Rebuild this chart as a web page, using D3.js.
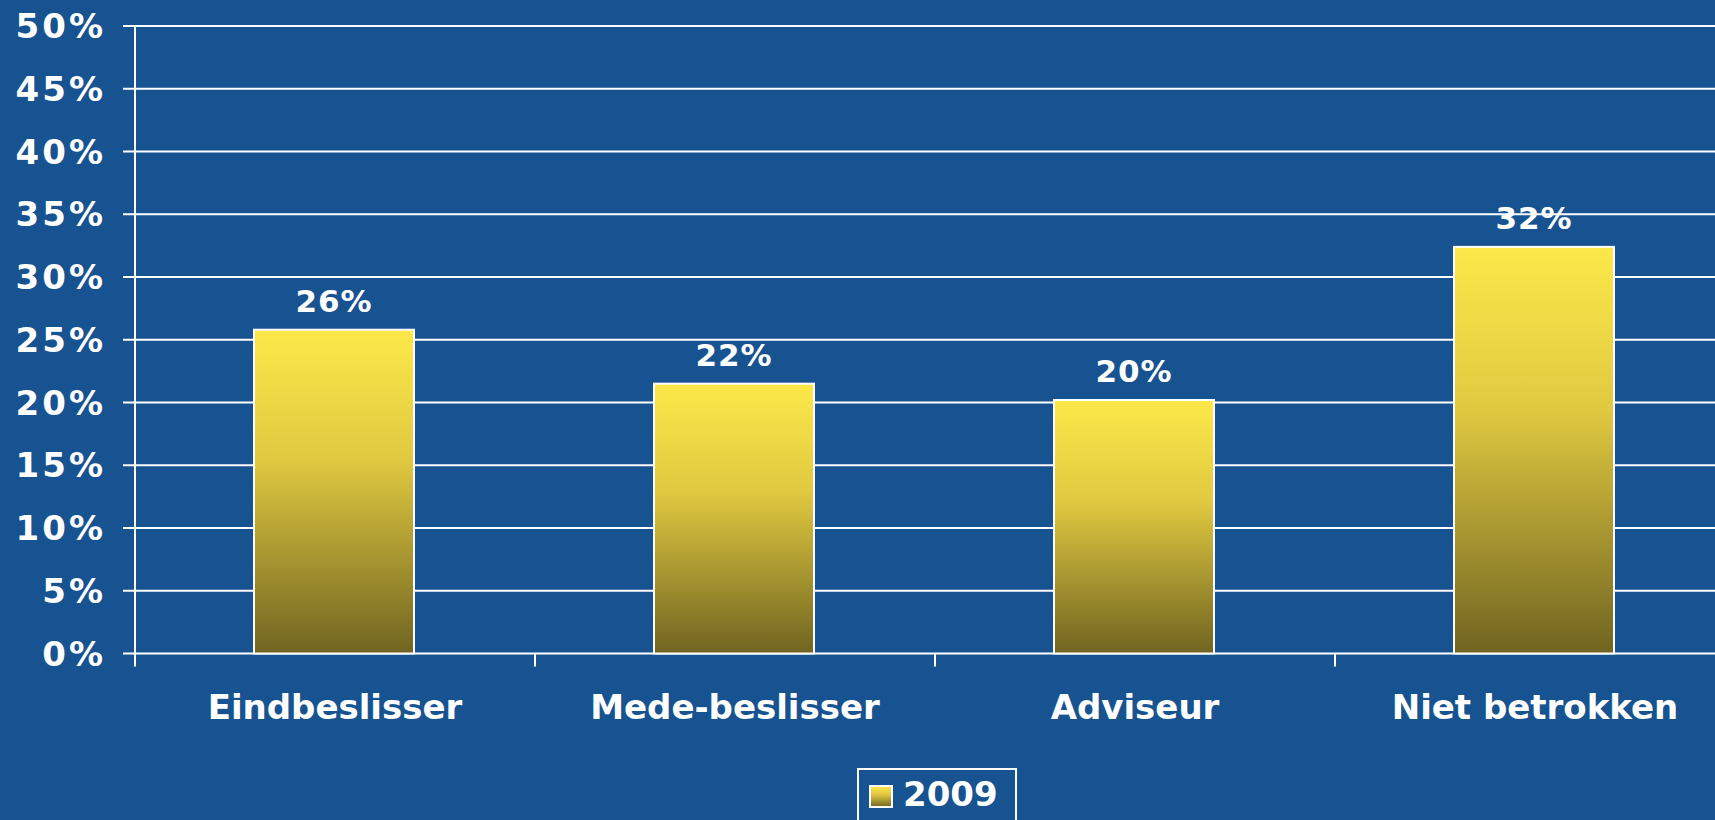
<!DOCTYPE html>
<html><head><meta charset="utf-8">
<script src="https://cdn.jsdelivr.net/npm/d3@7"></script>
<style>html,body{margin:0;padding:0;background:#175291;overflow:hidden}svg{display:block}</style>
</head><body>
<svg id="c" width="1715" height="820"></svg>
<script>
const categories = ["Eindbeslisser", "Mede-beslisser", "Adviseur", "Niet betrokken"];
const values2009 = [25.8, 21.5, 20.2, 32.4];
const valueLabels = ["26%", "22%", "20%", "32%"];
const yTicks = [0, 5, 10, 15, 20, 25, 30, 35, 40, 45, 50];
const seriesName = "2009";

const svg = d3.select("#c");
const font = "'DejaVu Sans', Verdana, sans-serif";
const L = 135, R = 1735, T = 26, B = 653.5;

const x = d3.scaleBand().domain(categories).range([L, R]).padding(0);
const y = d3.scaleLinear().domain([0, 50]).range([B, T]);

const defs = svg.append("defs");
const g = defs.append("linearGradient").attr("id", "bg").attr("x1", 0).attr("y1", 0).attr("x2", 0).attr("y2", 1);
g.append("stop").attr("offset", "0%").attr("stop-color", "#FDE84A");
g.append("stop").attr("offset", "40%").attr("stop-color", "#E0C940");
g.append("stop").attr("offset", "100%").attr("stop-color", "#706421");

svg.append("g").selectAll("line").data(yTicks).join("line")
  .attr("x1", L - 12).attr("x2", 1715).attr("y1", d => y(d)).attr("y2", d => y(d))
  .attr("stroke", "#fff").attr("stroke-width", 2);

svg.append("g").selectAll("text").data(yTicks).join("text")
  .attr("x", 106).attr("y", d => y(d)).attr("dy", "0.36em")
  .attr("text-anchor", "end").attr("fill", "#fff")
  .attr("font-family", font).attr("font-weight", "bold").attr("font-size", 34)
  .attr("letter-spacing", 3)
  .text(d => d + "%");

svg.append("line").attr("x1", L).attr("x2", L).attr("y1", T).attr("y2", B + 13)
  .attr("stroke", "#fff").attr("stroke-width", 2);

svg.append("g").selectAll("line").data(categories.slice(1)).join("line")
  .attr("x1", d => x(d)).attr("x2", d => x(d)).attr("y1", B).attr("y2", B + 13)
  .attr("stroke", "#fff").attr("stroke-width", 2);

const bw = x.bandwidth() * 0.4;
svg.append("g").selectAll("rect").data(categories).join("rect")
  .attr("x", d => x(d) + x.bandwidth() / 2 - bw / 2 - 1)
  .attr("width", bw)
  .attr("y", (d, i) => y(values2009[i]))
  .attr("height", (d, i) => B - y(values2009[i]))
  .attr("fill", "url(#bg)").attr("stroke", "#fff").attr("stroke-width", 2);

svg.append("g").selectAll("text").data(categories).join("text")
  .attr("x", d => x(d) + x.bandwidth() / 2 - 1)
  .attr("y", (d, i) => y(values2009[i]) - 18)
  .attr("text-anchor", "middle").attr("fill", "#fff")
  .attr("font-family", font).attr("font-weight", "bold").attr("font-size", 31)
  .attr("letter-spacing", 1)
  .text((d, i) => valueLabels[i]);

svg.append("g").selectAll("text").data(categories).join("text")
  .attr("x", d => x(d) + x.bandwidth() / 2)
  .attr("y", 719)
  .attr("text-anchor", "middle").attr("fill", "#fff")
  .attr("font-family", font).attr("font-weight", "bold").attr("font-size", 34)
  .text(d => d);

const lg = svg.append("g");
lg.append("rect").attr("x", 858).attr("y", 769).attr("width", 158).attr("height", 70)
  .attr("fill", "none").attr("stroke", "#fff").attr("stroke-width", 2);
lg.append("rect").attr("x", 870).attr("y", 786).attr("width", 22).attr("height", 21)
  .attr("fill", "url(#bg)").attr("stroke", "#fff").attr("stroke-width", 2);
lg.append("text").attr("x", 903).attr("y", 806).attr("fill", "#fff")
  .attr("font-family", font).attr("font-weight", "bold").attr("font-size", 34)
  .text(seriesName);
</script>
</body></html>
